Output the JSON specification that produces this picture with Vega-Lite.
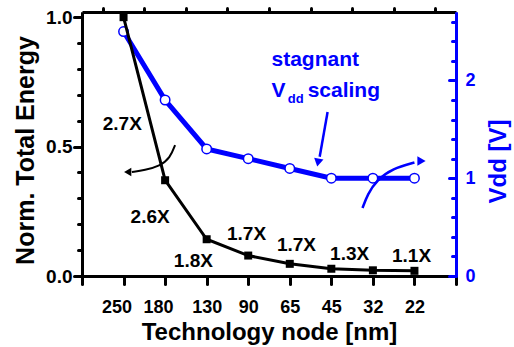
{
  "$schema": "https://vega.github.io/schema/vega-lite/v6.json",
  "width": 374,
  "height": 264,
  "autosize": {"type": "none"},
  "padding": {"left": 82, "top": 12, "right": 58, "bottom": 71},
  "background": "white",
  "config": {"font": "Liberation Sans", "view": {"stroke": null}, "axis": {"grid": false}},
  "datasets": {
    "nodes": [
      {"node": "250", "rank": 1, "energy": 1.0, "vdd": 2.5},
      {"node": "180", "rank": 2, "energy": 0.37, "vdd": 1.8},
      {"node": "130", "rank": 3, "energy": 0.142, "vdd": 1.3},
      {"node": "90", "rank": 4, "energy": 0.079, "vdd": 1.2},
      {"node": "65", "rank": 5, "energy": 0.047, "vdd": 1.1},
      {"node": "45", "rank": 6, "energy": 0.028, "vdd": 1.0},
      {"node": "32", "rank": 7, "energy": 0.022, "vdd": 1.0},
      {"node": "22", "rank": 8, "energy": 0.02, "vdd": 1.0}
    ],
    "ratios": [
      {"label": "2.7X", "rank": 0.97, "energy": 0.588},
      {"label": "2.6X", "rank": 1.64, "energy": 0.229},
      {"label": "1.8X", "rank": 2.68, "energy": 0.059},
      {"label": "1.7X", "rank": 3.96, "energy": 0.163},
      {"label": "1.7X", "rank": 5.16, "energy": 0.118},
      {"label": "1.3X", "rank": 6.44, "energy": 0.084},
      {"label": "1.1X", "rank": 7.93, "energy": 0.078}
    ]
  },
  "layer": [
    {
      "layer": [
        {
          "data": {"name": "nodes"},
          "mark": {"type": "line", "color": "#0000ff", "strokeWidth": 5},
          "encoding": {
            "x": {
              "field": "rank", "type": "quantitative",
              "scale": {"domain": [0, 9], "nice": false, "zero": false},
              "axis": {
                "title": "Technology node [nm]",
                "values": [0, 1, 2, 3, 4, 5, 6, 7, 8, 9],
                "labelExpr": "(datum.value >= 1 && datum.value <= 8) ? data('nodes')[datum.value - 1].node : ''",
                "labelFontSize": 18, "labelFontWeight": "bold", "labelColor": "black",
                "labelPadding": 14, "labelFlush": false, "labelOverlap": false,
                "labelOffset": {"condition": {"test": "datum.value <= 2", "value": -7}, "value": 0},
                "tickSize": 8, "tickWidth": 3, "tickColor": "black", "tickCap": "round",
                "domainWidth": 3, "domainColor": "black",
                "titleFontSize": 24, "titleFontWeight": "bold", "titleColor": "black", "titlePadding": 4
              }
            },
            "y": {
              "field": "vdd", "type": "quantitative",
              "scale": {"domain": [0, 2.7], "nice": false, "zero": false},
              "axis": {
                "orient": "right",
                "title": "Vdd [V]",
                "values": [0, 1, 2],
                "format": "d",
                "labelFontSize": 18, "labelFontWeight": "bold", "labelColor": "#0000ff",
                "labelPadding": 16, "labelOverlap": false, "labelFlush": false,
                "tickSize": -7, "tickWidth": 3, "tickColor": "#0000ff", "tickCap": "round",
                "domainWidth": 3, "domainColor": "#0000ff",
                "titleFontSize": 24, "titleFontWeight": "bold", "titleColor": "#0000ff",
                "titleAngle": 270, "titleBaseline": "middle", "titleAlign": "center",
                "titleX": 42, "titleY": 149
              }
            }
          }
        },
        {
          "data": {"name": "nodes"},
          "mark": {"type": "point", "shape": "circle", "filled": true, "fill": "white", "stroke": "#0000ff", "strokeWidth": 1.5, "size": 90, "opacity": 1},
          "encoding": {
            "x": {"field": "rank", "type": "quantitative"},
            "y": {
              "field": "vdd", "type": "quantitative",
              "axis": {
                "orient": "right", "title": null, "labels": false,
                "values": [0.2, 0.4, 0.6, 0.8, 1.2, 1.4, 1.6, 1.8, 2.2, 2.4, 2.6],
                "tickSize": -4, "tickWidth": 3, "tickColor": "#0000ff", "tickCap": "round",
                "domainWidth": 3, "domainColor": "#0000ff"
              }
            }
          }
        },
        {
          "data": {"values": [
            {"rank": 6.75, "vdd": 0.695},
            {"rank": 6.875, "vdd": 0.838},
            {"rank": 7.09, "vdd": 0.98},
            {"rank": 7.48, "vdd": 1.1},
            {"rank": 8.0, "vdd": 1.16}
          ]},
          "mark": {"type": "line", "color": "#0000ff", "strokeWidth": 2.5, "interpolate": "basis"},
          "encoding": {
            "x": {"field": "rank", "type": "quantitative"},
            "y": {"field": "vdd", "type": "quantitative", "axis": null}
          }
        },
        {
          "data": {"values": [{"rank": 8.17, "vdd": 1.176}]},
          "mark": {"type": "point", "shape": "triangle-right", "filled": true, "color": "#0000ff", "size": 90, "opacity": 1},
          "encoding": {
            "x": {"field": "rank", "type": "quantitative"},
            "y": {"field": "vdd", "type": "quantitative", "axis": null}
          }
        },
        {
          "data": {"values": [
            {"rank": 5.91, "vdd": 1.677},
            {"rank": 5.72, "vdd": 1.22}
          ]},
          "mark": {"type": "line", "color": "#0000ff", "strokeWidth": 2.5},
          "encoding": {
            "x": {"field": "rank", "type": "quantitative"},
            "y": {"field": "vdd", "type": "quantitative", "axis": null}
          }
        },
        {
          "data": {"values": [{"rank": 5.68, "vdd": 1.16}]},
          "mark": {"type": "point", "shape": "triangle-down", "angle": 11, "filled": true, "color": "#0000ff", "size": 90, "opacity": 1},
          "encoding": {
            "x": {"field": "rank", "type": "quantitative"},
            "y": {"field": "vdd", "type": "quantitative", "axis": null}
          }
        },
        {
          "data": {"values": [
            {"text": "stagnant", "rank": 4.56, "vdd": 2.15},
            {"text": "V", "rank": 4.56, "vdd": 1.83},
            {"text": "scaling", "rank": 5.43, "vdd": 1.83}
          ]},
          "mark": {"type": "text", "align": "left", "baseline": "alphabetic", "fontSize": 21, "fontWeight": "bold", "color": "#0000ff"},
          "encoding": {
            "x": {"field": "rank", "type": "quantitative"},
            "y": {"field": "vdd", "type": "quantitative", "axis": null},
            "text": {"field": "text"}
          }
        },
        {
          "data": {"values": [{"text": "dd", "rank": 4.95, "vdd": 1.77}]},
          "mark": {"type": "text", "align": "left", "baseline": "alphabetic", "fontSize": 13, "fontWeight": "bold", "color": "#0000ff"},
          "encoding": {
            "x": {"field": "rank", "type": "quantitative"},
            "y": {"field": "vdd", "type": "quantitative", "axis": null},
            "text": {"field": "text"}
          }
        }
      ],
      "resolve": {"axis": {"y": "independent"}}
    },
    {
      "layer": [
        {
          "data": {"name": "nodes"},
          "mark": {"type": "line", "color": "black", "strokeWidth": 3},
          "encoding": {
            "x": {
              "field": "rank", "type": "quantitative",
              "axis": {
                "title": null, "labels": false,
                "values": [0.5, 1.5, 2.5, 3.5, 4.5, 5.5, 6.5, 7.5, 8.5],
                "tickSize": 4, "tickWidth": 3, "tickColor": "black", "tickCap": "round",
                "domainWidth": 3, "domainColor": "black"
              }
            },
            "y": {
              "field": "energy", "type": "quantitative",
              "scale": {"domain": [0, 1.02], "nice": false, "zero": false},
              "axis": {
                "orient": "left",
                "title": "Norm. Total Energy",
                "values": [0, 0.5, 1.0],
                "format": ".1f",
                "labelFontSize": 19, "labelFontWeight": "bold", "labelColor": "black",
                "labelPadding": 2, "labelOverlap": false, "labelFlush": false,
                "tickSize": 8, "tickWidth": 3, "tickColor": "black", "tickCap": "round",
                "domainWidth": 3, "domainColor": "black",
                "titleFontSize": 25, "titleFontWeight": "bold", "titleColor": "black",
                "titleAngle": 270, "titleBaseline": "middle", "titleAlign": "center",
                "titleX": -57, "titleY": 138
              }
            }
          }
        },
        {
          "data": {"name": "nodes"},
          "mark": {"type": "point", "shape": "square", "filled": true, "color": "black", "size": 64, "opacity": 1},
          "encoding": {
            "x": {"field": "rank", "type": "quantitative"},
            "y": {
              "field": "energy", "type": "quantitative",
              "axis": {
                "orient": "left", "title": null, "labels": false,
                "values": [0.1, 0.2, 0.3, 0.4, 0.6, 0.7, 0.8, 0.9],
                "tickSize": 4, "tickWidth": 3, "tickColor": "black", "tickCap": "round",
                "domainWidth": 3, "domainColor": "black"
              }
            }
          }
        },
        {
          "data": {"name": "ratios"},
          "mark": {"type": "text", "align": "center", "baseline": "middle", "fontSize": 19, "fontWeight": "bold", "color": "black"},
          "encoding": {
            "x": {"field": "rank", "type": "quantitative"},
            "y": {"field": "energy", "type": "quantitative", "axis": null},
            "text": {"field": "label"}
          }
        },
        {
          "data": {"values": [
            {"rank": 2.24, "energy": 0.506},
            {"rank": 2.12, "energy": 0.456},
            {"rank": 1.875, "energy": 0.425},
            {"rank": 1.51, "energy": 0.409},
            {"rank": 1.2, "energy": 0.402}
          ]},
          "mark": {"type": "line", "color": "black", "strokeWidth": 2, "interpolate": "basis"},
          "encoding": {
            "x": {"field": "rank", "type": "quantitative"},
            "y": {"field": "energy", "type": "quantitative", "axis": null}
          }
        },
        {
          "data": {"values": [{"rank": 1.1, "energy": 0.402}]},
          "mark": {"type": "point", "shape": "triangle-left", "filled": true, "color": "black", "size": 70, "opacity": 1},
          "encoding": {
            "x": {"field": "rank", "type": "quantitative"},
            "y": {"field": "energy", "type": "quantitative", "axis": null}
          }
        }
      ],
      "resolve": {"axis": {"y": "independent"}}
    }
  ],
  "resolve": {"scale": {"y": "independent"}, "axis": {"y": "independent", "x": "independent"}}
}
